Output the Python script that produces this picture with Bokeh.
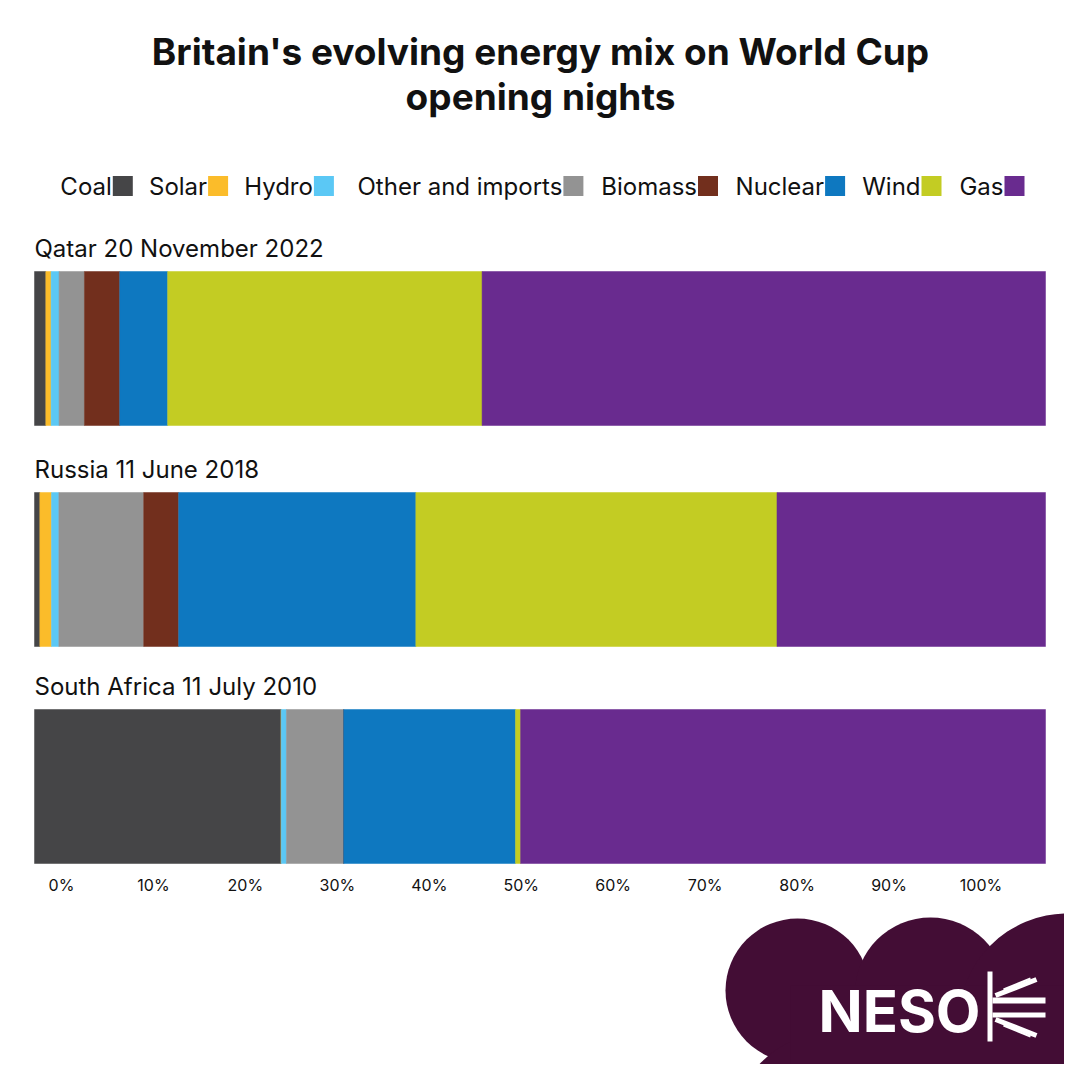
from bokeh.plotting import figure
from bokeh.models import Range1d, LinearAxis, FixedTicker, ColumnDataSource
from bokeh.core.properties import value
from bokeh.embed import file_html
from bokeh.resources import INLINE

# ---------------- data ----------------
rows = ["Qatar 20 November 2022", "Russia 11 June 2018", "South Africa 11 July 2010"]
sources = ["Coal", "Solar", "Hydro", "Other and imports", "Biomass", "Nuclear", "Wind", "Gas"]
coal = [1.12, 0.53, 24.4]
solar = [0.52, 1.15, 0.0]
hydro = [0.79, 0.73, 0.52]
other_imports = [2.51, 8.39, 5.66]
biomass = [3.49, 3.46, 0.0]
nuclear = [4.74, 23.46, 17.0]
wind = [31.10, 35.72, 0.50]
gas = [55.73, 26.56, 51.92]
tick_values = [0, 10, 20, 30, 40, 50, 60, 70, 80, 90, 100]
tick_labels = ["0%", "10%", "20%", "30%", "40%", "50%", "60%", "70%", "80%", "90%", "100%"]

title_lines = ["Britain's evolving energy mix on World Cup", "opening nights"]

# ---------------- style / layout ----------------
COLORS = ["#454547", "#fbbc2a", "#5bc8f5", "#939393", "#722f1d", "#0e78c0", "#c3cc23", "#692b8f"]
FONT = "Inter"
S = 1064                 # canvas size (px)
BAR_L, BAR_R = 34, 1045  # px where stacked bars start / end
AXIS_Y = 868             # px of (invisible) axis line
ROW_TOP = [271, 492, 709]
BAR_H = 154
AX0, AX100 = 61.0, 980.5  # px of 0% and 100% tick labels

def rx(px):
    """pixel -> bar data x"""
    return (px - BAR_L) / (BAR_R - BAR_L) * 100.0

p = figure(width=S, height=S, output_backend="svg", toolbar_location=None,
           x_range=Range1d(rx(0), rx(S)), y_range=Range1d(S, 0),
           x_axis_location=None, y_axis_location=None,
           min_border=0, min_border_left=0, min_border_right=0,
           min_border_top=0, min_border_bottom=0)
p.grid.visible = False
p.outline_line_color = None
p.background_fill_color = "white"
p.border_fill_color = "white"

# pixel range for decorations and the percentage axis range of the original graphic
per = (AX100 - AX0) / 100.0
p.extra_x_ranges = {"px": Range1d(0, S), "pct": Range1d((0 - AX0) / per, (S - AX0) / per)}

ax = LinearAxis(x_range_name="pct", ticker=FixedTicker(ticks=tick_values),
                major_label_overrides={v: l for v, l in zip(tick_values, tick_labels)},
                fixed_location=AXIS_Y)
ax.axis_line_color = None
ax.major_tick_line_color = None
ax.minor_tick_line_color = None
ax.major_tick_out = 0
ax.major_tick_in = 0
ax.major_label_standoff = 6
ax.major_label_text_font = FONT
ax.major_label_text_font_size = "16px"
ax.major_label_text_color = "#111111"
p.add_layout(ax, "below")

# stacked bars
ycent = [t + BAR_H / 2 for t in ROW_TOP]
src = ColumnDataSource(dict(y=ycent, Coal=coal, Solar=solar, Hydro=hydro,
                            **{"Other and imports": other_imports},
                            Biomass=biomass, Nuclear=nuclear, Wind=wind, Gas=gas))
p.hbar_stack(sources, y="y", height=BAR_H, color=COLORS, line_width=0.5, source=src)

# row labels
p.text(x=[0] * 3, y=[t - 23 for t in ROW_TOP], text=rows, text_font=value(FONT),
       text_font_size="24px", text_baseline="middle", text_align="left", text_color="#111111")

# title
p.text(x=[540, 540], y=[51, 96], text=title_lines, text_font=value(FONT), x_range_name="px",
       text_font_size="37px", text_font_style="bold", text_align="center",
       text_baseline="middle", text_color="#111111")

# legend: label followed by swatch
sw_left = [112.3, 207.6, 313.4, 562.9, 697.5, 824.6, 921.0, 1004.0]
SW = 20
p.text(x=[s - 1 for s in sw_left], y=[186] * 8, text=sources, text_font=value(FONT),
       x_range_name="px", text_font_size="24px", text_align="right",
       text_baseline="middle", text_color="#111111")
p.rect(x=[s + SW / 2 for s in sw_left], y=[185.5] * 8, width=SW, height=SW,
       x_range_name="px", fill_color=COLORS, line_color=None)

# ---------------- NESO logo ----------------
LOGO = "#430d35"
p.circle(x=[797, 930, 1067, 832], y=[990, 992.5, 1022, 1132], radius=[72, 75.5, 109, 100],
         x_range_name="px", fill_color=LOGO, line_color=None)
p.quad(left=[790], right=[1080], top=[985], bottom=[1080], x_range_name="px",
       fill_color=LOGO, line_color=None)
p.text(x=[899], y=[1010], text=["NESO"], text_font=value(FONT), text_font_size="58px",
       x_range_name="px", text_font_style="bold", text_color="white",
       text_baseline="middle", text_align="center")
p.quad(left=[987, 992, 992], right=[992, 1045, 1045], top=[971, 997, 1012],
       bottom=[1041, 1003, 1017], x_range_name="px", fill_color="white", line_color=None)
p.segment(x0=[995, 995, 1003, 1003], y0=[995, 1019, 989, 1025],
          x1=[1036, 1036, 1030, 1030], y1=[979, 1035, 978, 1036],
          x_range_name="px", line_color="white", line_width=[5, 5, 2, 2])

open("out.html", "w").write(file_html(p, INLINE))
